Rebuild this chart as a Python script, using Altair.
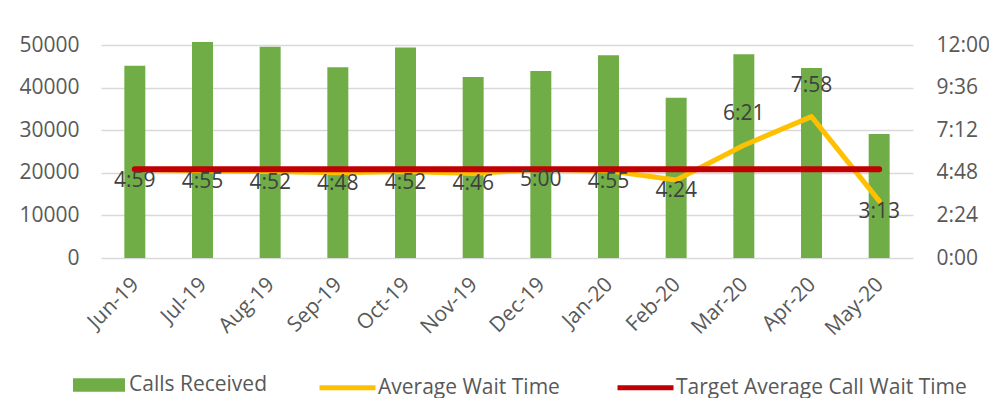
import altair as alt
import pandas as pd

months = ["Jun-19", "Jul-19", "Aug-19", "Sep-19", "Oct-19", "Nov-19",
          "Dec-19", "Jan-20", "Feb-20", "Mar-20", "Apr-20", "May-20"]
calls_received = [45100, 50700, 49600, 44800, 49400, 42500,
                  43900, 47600, 37600, 47800, 44600, 29100]
average_wait = ["4:59", "4:55", "4:52", "4:48", "4:52", "4:46",
                "5:00", "4:55", "4:24", "6:21", "7:58", "3:13"]
target_wait = "5:00"
left_ticks = [0, 10000, 20000, 30000, 40000, 50000]
right_ticks = ["0:00", "2:24", "4:48", "7:12", "9:36", "12:00"]


def to_sec(s):
    m, sec = s.split(":")
    return int(m) * 60 + int(sec)


df = pd.DataFrame({
    "month": months,
    "calls": calls_received,
    "wait": average_wait,
    "wait_s": [to_sec(w) for w in average_wait],
    "target_s": [to_sec(target_wait)] * len(months),
    "bar_name": ["Calls Received"] * len(months),
    "avg_name": ["Average Wait Time"] * len(months),
    "tgt_name": ["Target Average Call Wait Time"] * len(months),
})

FONT = "Open Sans"
TXT = "#595959"
GREEN, YELLOW, RED = "#70AD47", "#FFC000", "#C00000"
right_vals = [to_sec(t) for t in right_ticks]

x = alt.X(
    "month:N", sort=months,
    scale=alt.Scale(paddingInner=0.69, paddingOuter=0.345),
    axis=alt.Axis(title=None, labelAngle=315, labelAlign="right", labelBaseline="middle",
                  domain=False, ticks=False, labelPadding=23, labelOffset=1,
                  labelFont=FONT, labelFontSize=21, labelColor=TXT),
)

base = alt.Chart(df)

bars = base.mark_bar().encode(
    x=x,
    y=alt.Y("calls:Q", scale=alt.Scale(domain=[0, 50000], nice=False),
            axis=alt.Axis(title=None, orient="left", values=left_ticks, grid=True,
                          gridColor="#D9D9D9", gridWidth=1.3, domain=False, ticks=False,
                          labelPadding=22, labelFont=FONT, labelFontSize=21,
                          labelColor=TXT, format="d")),
    fill=alt.Fill("bar_name:N", scale=alt.Scale(domain=["Calls Received"], range=[GREEN]),
                  legend=alt.Legend(title=None, orient="none", legendX=-28, legendY=314,
                                    direction="horizontal", padding=0,
                                    symbolType="M-1,-0.263L1,-0.263L1,0.263L-1,0.263Z",
                                    symbolSize=2704, symbolStrokeWidth=0, symbolOpacity=1,
                                    labelOffset=4, labelFont=FONT, labelFontSize=21,
                                    labelColor=TXT, labelLimit=400)),
)

yscale = alt.Scale(domain=[0, 720], nice=False)
right_axis = alt.Axis(title=None, orient="right", values=right_vals, grid=False,
                      domain=False, ticks=False, labelPadding=23, labelFont=FONT,
                      labelFontSize=21, labelColor=TXT,
                      labelExpr="floor(datum.value/60) + ':' + (datum.value % 60 < 10 ? '0' : '') + (datum.value % 60)")
stroke_scale = alt.Scale(domain=["Average Wait Time", "Target Average Call Wait Time"],
                         range=[YELLOW, RED])
line_legend = alt.Legend(title=None, orient="none", legendX=216, legendY=312,
                         direction="horizontal", padding=0, symbolType="stroke",
                         symbolSize=3136, symbolStrokeWidth=5, columnPadding=47,
                         labelOffset=0, labelFont=FONT, labelFontSize=21,
                         labelColor=TXT, labelLimit=400)

avg_line = base.mark_line(strokeWidth=5, strokeCap="round", strokeJoin="round").encode(
    x=x,
    y=alt.Y("wait_s:Q", scale=yscale, axis=right_axis),
    stroke=alt.Stroke("avg_name:N", scale=stroke_scale, legend=line_legend),
)

tgt_line = base.mark_line(strokeWidth=6, strokeCap="round").encode(
    x=x,
    y=alt.Y("target_s:Q", scale=yscale, axis=right_axis),
    stroke=alt.Stroke("tgt_name:N", scale=stroke_scale, legend=line_legend),
)

lab_below = base.mark_text(font=FONT, fontSize=21, color="#404040", baseline="middle", dy=11).encode(
    x=x, y=alt.Y("wait_s:Q", scale=yscale, axis=right_axis), text="wait:N"
).transform_filter("datum.wait_s <= 330")

lab_above = base.mark_text(font=FONT, fontSize=21, color="#404040", baseline="middle", dy=-31).encode(
    x=x, y=alt.Y("wait_s:Q", scale=yscale, axis=right_axis), text="wait:N"
).transform_filter("datum.wait_s > 330")

inner = alt.layer(avg_line, tgt_line, lab_below, lab_above)

chart = alt.layer(bars, inner).resolve_scale(y="independent").properties(
    width=812, height=213,
    padding={"left": 93, "top": 37, "right": 76, "bottom": 140},
    autosize=alt.AutoSizeParams(type="none"),
).configure_view(stroke=None)

chart.save("out.html", embed_options={"renderer": "svg", "actions": False})
